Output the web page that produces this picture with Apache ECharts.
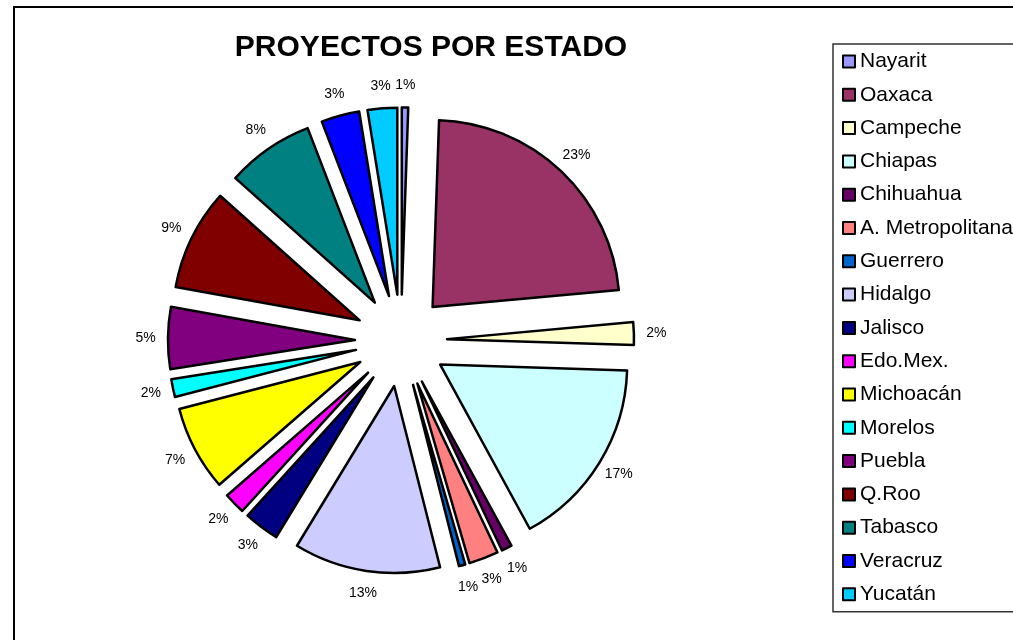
<!DOCTYPE html>
<html>
<head>
<meta charset="utf-8">
<script src="https://cdn.jsdelivr.net/npm/echarts@6/dist/echarts.min.js"></script>
<style>
html,body{margin:0;padding:0;background:#fff;}
#chart{width:1013px;height:640px;}
</style>
</head>
<body>
<div id="chart"></div>
<script>
const titulo = 'PROYECTOS POR ESTADO';
const categorias = ['Nayarit','Oaxaca','Campeche','Chiapas','Chihuahua','A. Metropolitana','Guerrero','Hidalgo','Jalisco','Edo.Mex.','Michoacán','Morelos','Puebla','Q.Roo','Tabasco','Veracruz','Yucatán'];
// share of projects per state (%)
const porcentajes = [0.55, 23.0, 1.95, 16.55, 0.9, 2.55, 0.55, 12.65, 3.05, 1.85, 7.35, 1.55, 5.35, 8.75, 7.55, 3.3, 2.55];
const colores = ['#9999FF','#993366','#FFFFCC','#CCFFFF','#660066','#FF8080','#0066CC','#CCCCFF','#000080','#FF00FF','#FFFF00','#00FFFF','#800080','#800000','#008080','#0000FF','#00CCFF'];

const total = porcentajes.reduce((a, b) => a + b, 0);
const font = '"Liberation Sans", Arial, sans-serif';

const chart = echarts.init(document.getElementById('chart'), null, {renderer: 'canvas'});
chart.setOption({
  animation: false,
  backgroundColor: '#fff',
  graphic: [
    {type: 'rect', shape: {x: 14, y: 7, width: 1200, height: 800}, style: {fill: 'none', stroke: '#000', lineWidth: 2}, silent: true, z: -10},
    {type: 'text', x: 431, y: 48, style: {text: titulo, fill: '#000', font: 'bold 30px ' + font, align: 'center', verticalAlign: 'middle'}}
  ],
  legend: {
    orient: 'vertical',
    left: 833,
    top: 44,
    padding: [7, 40, 7, 9],
    itemWidth: 12,
    itemHeight: 12,
    itemGap: 12.3,
    icon: 'rect',
    borderColor: '#333',
    borderWidth: 1.5,
    itemStyle: {borderColor: '#000', borderWidth: 2},
    textStyle: {fontFamily: font, fontSize: 21, color: '#000', lineHeight: 21},
    selectedMode: false,
    data: categorias
  },
  series: [{
    type: 'pie',
    center: [401, 340.5],
    radius: 187,
    startAngle: 90,
    clockwise: true,
    selectedMode: 'multiple',
    selectedOffset: 46,
    avoidLabelOverlap: false,
    emphasis: {disabled: true},
    itemStyle: {borderColor: '#000', borderWidth: 2.5},
    select: {itemStyle: {borderColor: '#000', borderWidth: 2.5}},
    label: {
      show: true,
      position: 'outside',
      distanceToLabelLine: 0,
      fontFamily: font,
      fontSize: 14,
      color: '#000',
      formatter: p => Math.round(p.value / total * 100) + '%'
    },
    labelLine: {show: false, length: 22.5, length2: 0},
    labelLayout: () => ({align: 'center', verticalAlign: 'middle', hideOverlap: false}),
    data: categorias.map((c, i) => ({name: c, value: porcentajes[i], selected: true, itemStyle: {color: colores[i]}}))
  }]
});
</script>
</body>
</html>
